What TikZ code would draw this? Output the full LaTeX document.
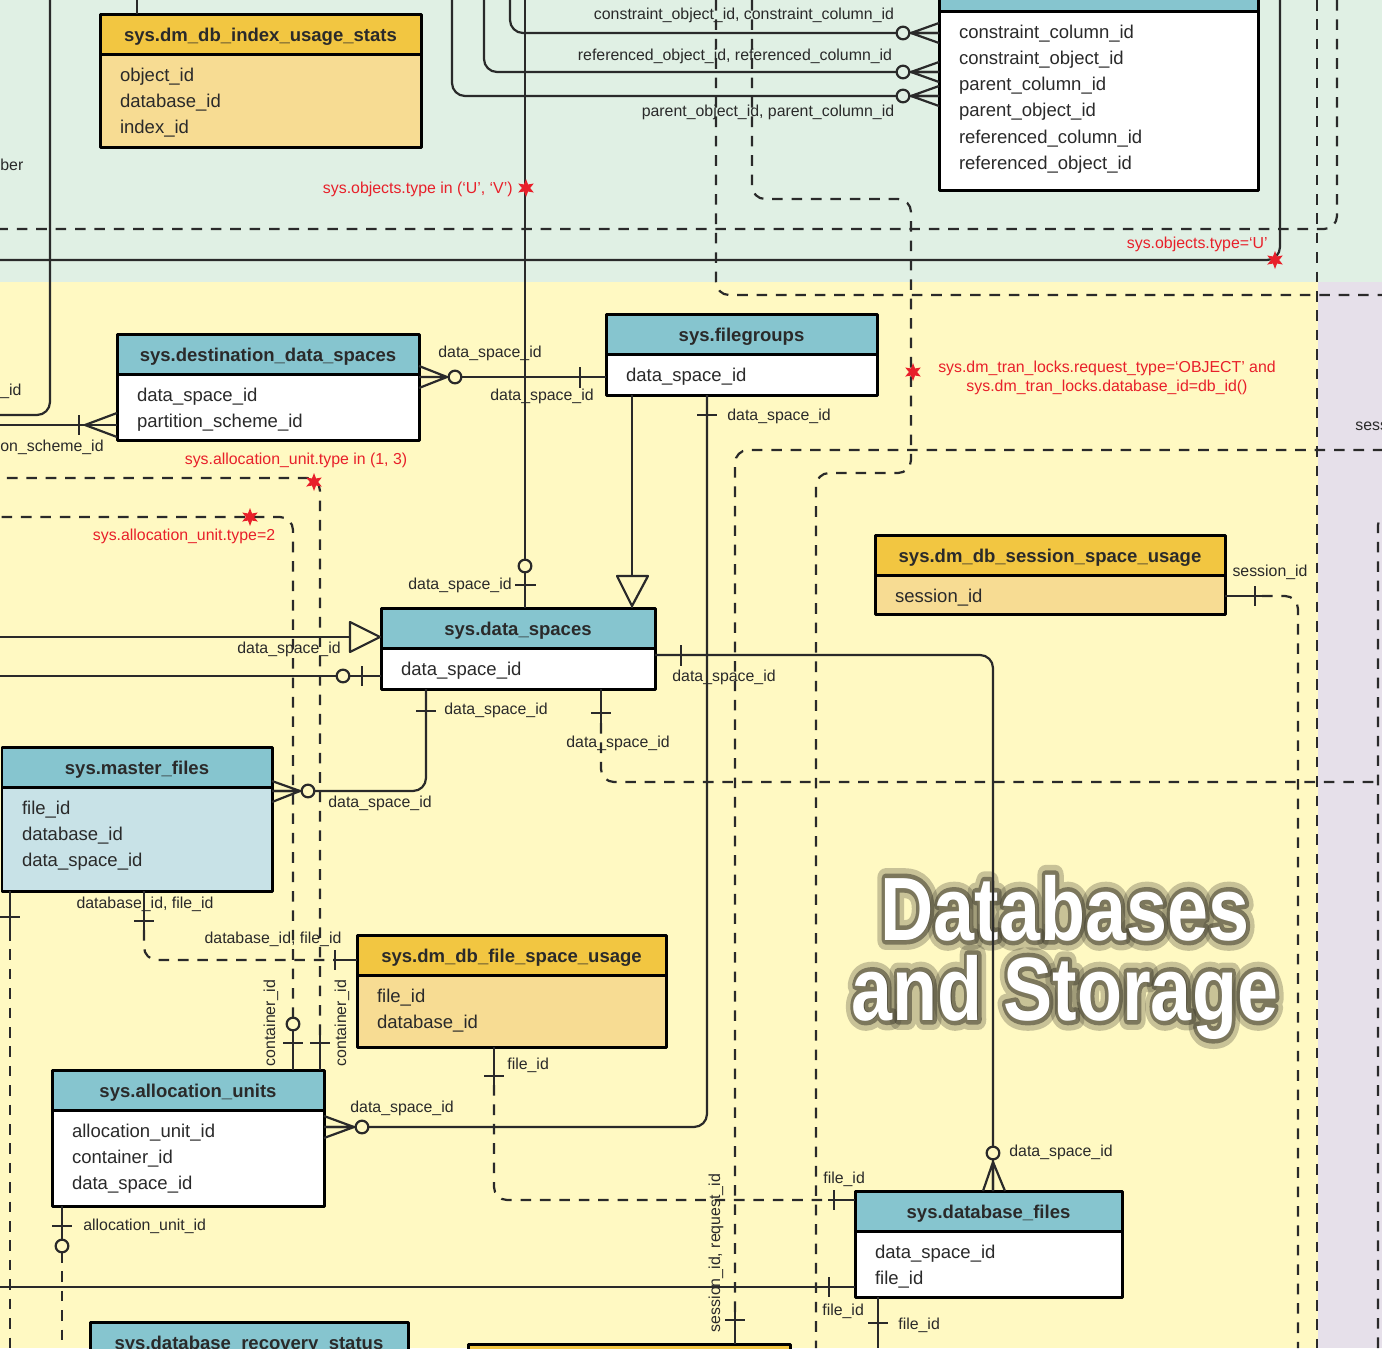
\documentclass[tikz,border=0pt]{standalone}
\usepackage{graphicx}
\usepackage{fontspec}
\setmainfont{Liberation Sans}
\newfontfamily\glowA{Liberation Sans Bold}[FakeBold=10]
\newfontfamily\glowB{Liberation Sans Bold}[FakeBold=22]
\usetikzlibrary{shapes.geometric}
\newlength\px \setlength\px{0.5669pt}
\definecolor{bggreen}{HTML}{E0F0E4}
\definecolor{bgyellow}{HTML}{FFF9C2}
\definecolor{bglav}{HTML}{E6E0EA}
\definecolor{hdteal}{HTML}{86C5CF}
\definecolor{hdgold}{HTML}{F2C641}
\definecolor{bdgold}{HTML}{F7DC93}
\definecolor{bdblue}{HTML}{C8E2E7}
\definecolor{ink}{HTML}{2A2A2A}
\definecolor{cond}{HTML}{E8202A}
\definecolor{glow}{HTML}{4A4636}
\newcommand\fldfont{\fontsize{10.5}{12}\selectfont}
\newcommand\hdfont{\fontsize{10.5}{12}\selectfont\bfseries}
\newcommand\lblfont{\fontsize{9}{10.5}\selectfont}
\newcommand\ttlsize{\fontsize{51}{55}\selectfont}
\tikzstyle{hd}=[draw=black, line width=1.7pt, minimum height=40\px, inner sep=0pt,
                outer sep=0pt, text height=8.8pt, text depth=0.2pt, font=\hdfont,
                anchor=north west, text=ink]
\tikzstyle{bd}=[draw=black, line width=1.7pt, inner sep=0pt, outer sep=0pt,
                anchor=north west, font=\fldfont, text=ink]
\tikzstyle{rel}=[draw=ink, line width=1.25pt]
\tikzstyle{opt}=[rel, dash pattern=on 6pt off 5pt]
\tikzstyle{rnd}=[rounded corners=13\px]
\tikzstyle{lbl}=[inner sep=0pt, font=\lblfont, text=ink]
\tikzstyle{cnd}=[inner sep=0pt, font=\lblfont, text=cond]
\tikzstyle{flag}=[star, star points=6, star point ratio=2.2, fill=cond,
                  inner sep=0pt, minimum size=18\px]
\tikzstyle{ttl}=[inner sep=0pt, anchor=base]
% table: name, corner, width, body height, head fill, body fill, title, fields
\newcommand\tbl[8]{%
  \node[hd, fill=#5, minimum width=#3\px] (#1) at (#2) {#7};
  \node[bd, fill=#6] (#1-f) at (#1.south west)
    {\parbox[c][#4\px][t]{#3\px}{\raggedright\leftskip=20\px
      \baselineskip=26.3\px\rule{0pt}{27\px}#8}};
}
\begin{document}
\begin{tikzpicture}[x=0.5669pt, y=-0.5669pt, line join=round]
  \useasboundingbox (0,0) rectangle (1382,1348);
  \clip (0,0) rectangle (1382,1348);
  % areas
  \fill[bggreen] (0,0) rectangle (1382,282);
  \fill[bgyellow] (0,282) rectangle (1318,1348);
  \fill[bglav] (1318,282) rectangle (1382,1348);

  % title
  \node[ttl, text=glow, opacity=0.3, font=\glowB\ttlsize] (gB)
    at (1065,940) {\scalebox{0.82}[1]{Databases}};
  \node[ttl, text=glow, opacity=0.3, font=\glowB\ttlsize] (hB)
    at (1065,1020) {\scalebox{0.82}[1]{and Storage}};
  \node[ttl, text=glow, opacity=0.6, font=\glowA\ttlsize] (gA)
    at (1065,940) {\scalebox{0.82}[1]{Databases}};
  \node[ttl, text=glow, opacity=0.6, font=\glowA\ttlsize] (hA)
    at (1065,1020) {\scalebox{0.82}[1]{and Storage}};
  \node[ttl, text=white, font=\ttlsize\bfseries] (ttlA)
    at (1065,940) {\scalebox{0.82}[1]{Databases}};
  \node[ttl, text=white, font=\ttlsize\bfseries] (ttlB)
    at (1065,1020) {\scalebox{0.82}[1]{and Storage}};

  % tables
  \tbl{ius}{100,14}{321}{93}{hdgold}{bdgold}{sys.dm\_db\_index\_usage\_stats}
      {object\_id\\database\_id\\index\_id}
  \tbl{fkc}{939,-29}{319}{179}{hdteal}{white}{}
      {constraint\_column\_id\\constraint\_object\_id\\parent\_column\_id\\
       parent\_object\_id\\referenced\_column\_id\\referenced\_object\_id}
  \tbl{dds}{117,334}{302}{66}{hdteal}{white}{sys.destination\_data\_spaces}
      {data\_space\_id\\partition\_scheme\_id}
  \tbl{fg}{606,314}{271}{41}{hdteal}{white}{sys.filegroups}{data\_space\_id}
  \tbl{ds}{381,608}{274}{41}{hdteal}{white}{sys.data\_spaces}{data\_space\_id}
  \tbl{ssu}{875,535}{350}{39}{hdgold}{bdgold}{sys.dm\_db\_session\_space\_usage}
      {session\_id}
  \tbl{mf}{2,747}{270}{104}{hdteal}{bdblue}{sys.master\_files}
      {file\_id\\database\_id\\data\_space\_id}
  \tbl{fsu}{357,935}{309}{72}{hdgold}{bdgold}{sys.dm\_db\_file\_space\_usage}
      {file\_id\\database\_id}
  \tbl{au}{52,1070}{272}{96}{hdteal}{white}{sys.allocation\_units}
      {allocation\_unit\_id\\container\_id\\data\_space\_id}
  \tbl{dbf}{855,1191}{267}{66}{hdteal}{white}{sys.database\_files}
      {data\_space\_id\\file\_id}
  \tbl{drs}{90,1322}{318}{60}{hdteal}{white}{sys.database\_recovery\_status}{}
  \tbl{bot}{468,1344}{322}{60}{hdgold}{bdgold}{}{}

  % connectors, top
  \coordinate (t137) at (137,0);
  \coordinate (t50) at (50,0);
  \coordinate (l415) at (0,415);
  \coordinate (t525) at (525,0);
  \coordinate (t510) at (510,0);
  \coordinate (t484) at (484,0);
  \coordinate (t452) at (452,0);
  \coordinate (t752) at (752,0);
  \coordinate (b816) at (816,1348);
  \coordinate (t716) at (716,0);
  \coordinate (r295) at (1382,295);
  \coordinate (t1337) at (1337,0);
  \coordinate (l229) at (0,229);
  \coordinate (t1280) at (1280,0);
  \coordinate (l260) at (0,260);
  \coordinate (t1317) at (1317,0);
  \coordinate (b1317) at (1317,1348);
  \draw[rel] (t137) -- (t137 |- ius.north);
  \draw[rel, rnd] (t50) -- (t50 |- l415) -- (l415);
  \draw[rel] (t525) -- (t525 |- ds.north);
  \draw[rel, rnd] (t510) -- (510,33) -- (fkc-f.west |- 0,33);
  \draw[rel, rnd] (t484) -- (484,72) -- (fkc-f.west |- 0,72);
  \draw[rel, rnd] (t452) -- (452,96) -- (fkc-f.west |- 0,96);
  \foreach \y in {33,72,96}{
    \draw[rel] (939,\y-10) -- (911,\y) -- (939,\y+10) (911,\y) -- (939,\y);
    \draw[rel, fill=bggreen] (903,\y) circle[radius=3.6pt];
  }
  \draw[opt, rnd] (t752) -- (752,199) -- (911,199) -- (911,473) -- (816,473) -- (b816);
  \draw[opt, rnd] (t716) -- (716,295) -- (r295);
  \draw[opt, rnd] (t1337) -- (1337,229) -- (l229);
  \draw[rel, rnd] (t1280) -- (1280,260) -- (l260);
  \draw[opt] (t1317) -- (b1317);

  % connectors, middle
  \coordinate (l425) at (0,425);
  \coordinate (l637) at (0,637);
  \coordinate (l676) at (0,676);
  \coordinate (r782) at (1382,782);
  \coordinate (b1298) at (1298,1348);
  \coordinate (b1378) at (1378,1348);
  \coordinate (r512) at (1400,512);
  \coordinate (r450) at (1382,450);
  \coordinate (j735) at (735,1312);
  \draw[rel] (dds-f.east |- 0,377) -- (fg-f.west |- 0,377);
  \draw[rel] (419,366) -- (447,377) -- (419,388) (419,377) -- (447,377);
  \draw[rel, fill=bgyellow] (455,377) circle[radius=3.6pt];
  \draw[rel] (580,367) -- (580,388);
  \draw[rel] (l425) -- (l425 -| dds-f.west);
  \draw[rel] (117,413) -- (85,425) -- (117,437);
  \draw[rel] (79,415) -- (79,435);
  \draw[rel] (fg-f.south -| 632,0) -- (ds.north -| 632,0);
  \draw[rel, fill=bgyellow] (617,576) -- (648,576) -- (632,606) -- cycle;
  \draw[rel, rnd] (fg-f.south -| 707,0) -- (707,1127) -- (au-f.east |- 0,1127);
  \draw[rel] (697,415) -- (717,415);
  \draw[rel] (324,1116) -- (354,1127) -- (324,1138) (324,1127) -- (354,1127);
  \draw[rel, fill=bgyellow] (362,1127) circle[radius=3.6pt];
  \draw[rel] (l637) -- (l637 -| ds.west);
  \draw[rel, fill=bgyellow] (350,622) -- (380,637) -- (350,652) -- cycle;
  \draw[rel] (l676) -- (l676 -| ds-f.west);
  \draw[rel, fill=bgyellow] (343,676) circle[radius=3.6pt];
  \draw[rel] (362,666) -- (362,686);
  \draw[rel] (515,585) -- (536,585);
  \draw[rel, fill=bgyellow] (525,566) circle[radius=3.6pt];
  \draw[rel, rnd] (ds-f.south -| 426,0) -- (426,791) -- (mf-f.east |- 0,791);
  \draw[rel] (272,781) -- (300,791) -- (272,802) (272,791) -- (300,791);
  \draw[rel, fill=bgyellow] (308,791) circle[radius=3.6pt];
  \draw[rel] (416,711) -- (436,711);
  \draw[rel] (ds-f.south -| 601,0) -- (601,723);
  \draw[opt, rnd] (601,723) -- (601,782) -- (r782);
  \draw[rel] (591,713) -- (611,713);
  \draw[rel, rnd] (ds-f.east |- 0,655) -- (993,655) -- (dbf.north -| 993,0);
  \draw[rel] (681,645) -- (681,666);
  \draw[rel] (983,1191) -- (993,1162) -- (1005,1191) (993,1162) -- (993,1191);
  \draw[rel, fill=bgyellow] (993,1153) circle[radius=3.6pt];
  \draw[rel] (ssu-f.east |- 0,596) -- (1262,596);
  \draw[opt, rnd] (1262,596) -- (1298,596) -- (b1298);
  \draw[rel] (1255,586) -- (1255,606);
  \draw[opt, rnd] (b1378) -- (1378,512) -- (r512);
  \draw[opt, rnd] (j735) -- (735,450) -- (r450);
  \draw[rel] (j735) -- (bot.north -| 735,0);
  \draw[rel] (725,1320) -- (745,1320);

  % connectors, bottom
  \coordinate (b10) at (10,1348);
  \coordinate (l517) at (0,517);
  \coordinate (l478) at (0,478);
  \coordinate (b62) at (62,1348);
  \coordinate (l1287) at (0,1287);
  \coordinate (b878) at (878,1348);
  \draw[rel] (mf-f.south -| 10,0) -- (10,930);
  \draw[opt] (10,930) -- (b10);
  \draw[rel] (0,917) -- (20,917);
  \draw[rel] (mf-f.south -| 144,0) -- (144,930);
  \draw[opt, rnd] (144,930) -- (144,960) -- (335,960);
  \draw[rel] (335,960) -- (fsu.west |- 0,960);
  \draw[rel] (134,921) -- (154,921) (335,950) -- (335,970);
  \draw[rel] (fsu-f.south -| 494,0) -- (494,1085);
  \draw[opt, rnd] (494,1085) -- (494,1200) -- (828,1200);
  \draw[rel] (828,1200) -- (dbf.west |- 0,1200);
  \draw[rel] (484,1076) -- (504,1076) (834,1190) -- (834,1210);
  \draw[rel] (au.north -| 293,0) -- (293,1030);
  \draw[opt, rnd] (293,1018) -- (293,517) -- (l517);
  \draw[rel] (283,1043) -- (303,1043);
  \draw[rel, fill=bgyellow] (293,1024) circle[radius=3.6pt];
  \draw[rel] (au.north -| 320,0) -- (320,1035);
  \draw[opt, rnd] (320,1035) -- (320,478) -- (l478);
  \draw[rel] (310,1043) -- (330,1043);
  \draw[rel] (au-f.south -| 62,0) -- (62,1240);
  \draw[opt] (62,1252) -- (b62);
  \draw[rel] (52,1226) -- (72,1226);
  \draw[rel, fill=bgyellow] (62,1246) circle[radius=3.6pt];
  \draw[rel] (l1287) -- (l1287 -| dbf-f.west);
  \draw[rel] (829,1277) -- (829,1297);
  \draw[rel] (dbf-f.south -| 878,0) -- (b878);
  \draw[rel] (868,1323) -- (888,1323);

  % conditions
  \node[flag] (f1) at (526,188) {};
  \node[flag] (f2) at (1275,260) {};
  \node[flag] (f3) at (913,372) {};
  \node[flag] (f4) at (314,482) {};
  \node[flag] (f5) at (250,517) {};
  \node[cnd, anchor=east] (c1) at (513,189) {sys.objects.type in (‘U’, ‘V’)};
  \node[cnd, anchor=east] (c2) at (1268,244) {sys.objects.type=‘U’};
  \node[cnd, align=center] (c3) at (1107,378)
    {sys.dm\_tran\_locks.request\_type=‘OBJECT’ and\\sys.dm\_tran\_locks.database\_id=db\_id()};
  \node[cnd] (c4) at (296,460) {sys.allocation\_unit.type in (1, 3)};
  \node[cnd] (c5) at (184,536) {sys.allocation\_unit.type=2};

  % labels
  \node[lbl] (n1) at (744,15) {constraint\_object\_id, constraint\_column\_id};
  \node[lbl] (n2) at (735,56) {referenced\_object\_id, referenced\_column\_id};
  \node[lbl] (n3) at (768,112) {parent\_object\_id, parent\_column\_id};
  \node[lbl, anchor=west] (n4) at (0,165) {ber};
  \node[lbl] (n5) at (490,353) {data\_space\_id};
  \node[lbl] (n6) at (542,396) {data\_space\_id};
  \node[lbl, anchor=west] (n7) at (0,391) {\_id};
  \node[lbl, anchor=west] (n8) at (0,447) {on\_scheme\_id};
  \node[lbl, anchor=west] (n9) at (727,416) {data\_space\_id};
  \node[lbl, anchor=west] (n10) at (1355,426) {sess};
  \node[lbl, anchor=east] (n11) at (512,585) {data\_space\_id};
  \node[lbl] (n12) at (1270,572) {session\_id};
  \node[lbl] (n13) at (289,649) {data\_space\_id};
  \node[lbl] (n14) at (724,677) {data\_space\_id};
  \node[lbl, anchor=west] (n15) at (444,710) {data\_space\_id};
  \node[lbl] (n16) at (618,743) {data\_space\_id};
  \node[lbl, anchor=west] (n17) at (328,803) {data\_space\_id};
  \node[lbl] (n18) at (145,904) {database\_id, file\_id};
  \node[lbl] (n19) at (273,939) {database\_id, file\_id};
  \node[lbl, rotate=90] (n20) at (271,1023) {container\_id};
  \node[lbl, rotate=90] (n21) at (342,1023) {container\_id};
  \node[lbl, anchor=west] (n22) at (507,1065) {file\_id};
  \node[lbl] (n23) at (402,1108) {data\_space\_id};
  \node[lbl, anchor=west] (n24) at (1009,1152) {data\_space\_id};
  \node[lbl, anchor=west] (n25) at (823,1179) {file\_id};
  \node[lbl, anchor=west] (n26) at (83,1226) {allocation\_unit\_id};
  \node[lbl, rotate=90] (n27) at (716,1253) {session\_id, request\_id};
  \node[lbl, anchor=west] (n28) at (822,1311) {file\_id};
  \node[lbl, anchor=west] (n29) at (898,1325) {file\_id};
\end{tikzpicture}
\end{document}
